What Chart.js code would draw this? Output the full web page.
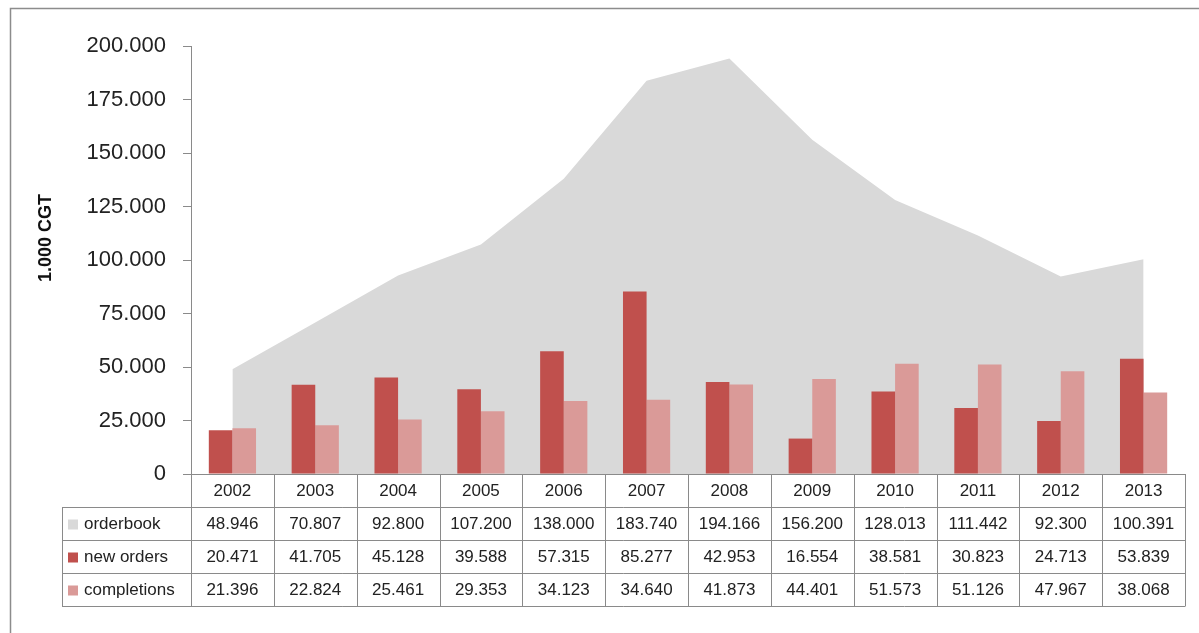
<!DOCTYPE html>
<html>
<head>
<meta charset="utf-8">
<script src="https://cdn.jsdelivr.net/npm/chart.js@4.4.1/dist/chart.umd.min.js"></script>
<style>
  html, body { margin: 0; padding: 0; background: #fff; }
  #wrap { position: relative; width: 1199px; height: 633px; }
</style>
</head>
<body>
<div id="wrap"><canvas id="c" width="1199" height="633"></canvas></div>
<script>
const categories = ['2002','2003','2004','2005','2006','2007','2008','2009','2010','2011','2012','2013'];
const orderbook  = [48946, 70807, 92800, 107200, 138000, 183740, 194166, 156200, 128013, 111442, 92300, 100391];
const newOrders  = [20471, 41705, 45128, 39588, 57315, 85277, 42953, 16554, 38581, 30823, 24713, 53839];
const completions= [21396, 22824, 25461, 29353, 34123, 34640, 41873, 44401, 51573, 51126, 47967, 38068];
const seriesNames = ['orderbook', 'new orders', 'completions'];
const yTicks = [0, 25000, 50000, 75000, 100000, 125000, 150000, 175000, 200000];
const yTitle = '1.000 CGT';

const colors = { orderbook: '#D9D9D9', newOrders: '#C0504D', completions: '#DA9A98' };
const lineCol = '#8A8A8A';
const FONT = '"Liberation Sans", Arial, sans-serif';

function fmt(v) {
  if (v === 0) return '0';
  const s = Math.round(v).toString();
  return s.replace(/\B(?=(\d{3})+(?!\d))/g, '.');
}

const tablePlugin = {
  id: 'dataTable',
  beforeDraw(chart) {
    const ctx = chart.ctx;
    ctx.save();
    ctx.fillStyle = '#fff';
    ctx.fillRect(0, 0, chart.width, chart.height);
    ctx.strokeStyle = '#8C8C8C';
    ctx.lineWidth = 1.5;
    ctx.beginPath();
    ctx.moveTo(10.5, chart.height);
    ctx.lineTo(10.5, 8.5);
    ctx.lineTo(chart.width, 8.5);
    ctx.stroke();
    ctx.restore();
  },
  afterDraw(chart) {
    const ctx = chart.ctx;
    const ca = chart.chartArea;
    const x = chart.scales.x;
    const n = categories.length;
    const colW = (ca.right - ca.left) / n;
    const top = ca.bottom;
    const rowH = 33;
    const labelLeft = 62;
    ctx.save();
    ctx.strokeStyle = lineCol;
    ctx.lineWidth = 1;
    for (let i = 0; i <= n; i++) {
      const px = Math.round(ca.left + i * colW) + 0.5;
      ctx.beginPath();
      ctx.moveTo(px, top);
      ctx.lineTo(px, top + rowH * 4);
      ctx.stroke();
    }
    ctx.beginPath();
    ctx.moveTo(labelLeft + 0.5, top + rowH);
    ctx.lineTo(labelLeft + 0.5, top + rowH * 4);
    ctx.stroke();
    for (let r = 1; r <= 4; r++) {
      const py = Math.round(top + r * rowH) + 0.5;
      ctx.beginPath();
      ctx.moveTo(labelLeft, py);
      ctx.lineTo(Math.round(ca.right) + 0.5, py);
      ctx.stroke();
    }
    ctx.fillStyle = '#222';
    ctx.font = '17px ' + FONT;
    ctx.textAlign = 'center';
    ctx.textBaseline = 'middle';
    categories.forEach((c, i) => {
      ctx.fillText(c, x.getPixelForValue(i), top + rowH / 2 + 1);
    });
    const rows = [orderbook, newOrders, completions];
    const keyCols = [colors.orderbook, colors.newOrders, colors.completions];
    rows.forEach((arr, r) => {
      const cy = top + rowH * (r + 1) + rowH / 2 + 1;
      arr.forEach((v, i) => {
        ctx.fillStyle = '#222';
        ctx.textAlign = 'center';
        ctx.fillText(fmt(v), x.getPixelForValue(i), cy);
      });
      ctx.fillStyle = keyCols[r];
      ctx.fillRect(68, cy - 5, 10, 10);
      ctx.fillStyle = '#222';
      ctx.textAlign = 'left';
      ctx.fillText(seriesNames[r], 84, cy);
    });
    ctx.save();
    ctx.translate(46, 238);
    ctx.rotate(-Math.PI / 2);
    ctx.font = 'bold 18px ' + FONT;
    ctx.fillStyle = '#111';
    ctx.textAlign = 'center';
    ctx.textBaseline = 'middle';
    ctx.fillText(yTitle, 0, 0);
    ctx.restore();
    ctx.restore();
  }
};

new Chart(document.getElementById('c'), {
  data: {
    labels: categories,
    datasets: [
      {
        type: 'line', label: seriesNames[0], data: orderbook,
        backgroundColor: colors.orderbook, borderColor: colors.orderbook,
        borderWidth: 0, pointRadius: 0, fill: 'origin', tension: 0, order: 3
      },
      {
        type: 'bar', label: seriesNames[1], data: newOrders,
        backgroundColor: colors.newOrders, borderWidth: 0,
        categoryPercentage: 0.57, barPercentage: 1.0, order: 1
      },
      {
        type: 'bar', label: seriesNames[2], data: completions,
        backgroundColor: colors.completions, borderWidth: 0,
        categoryPercentage: 0.57, barPercentage: 1.0, order: 1
      }
    ]
  },
  options: {
    responsive: false,
    animation: false,
    devicePixelRatio: 1,
    layout: { padding: { top: 46, bottom: 159, left: 0, right: 14 } },
    plugins: { legend: { display: false }, tooltip: { enabled: false } },
    scales: {
      x: {
        type: 'category', offset: true,
        grid: { display: false },
        ticks: { display: false },
        border: { display: true, color: lineCol, width: 1 },
        afterFit(s) { s.height = 0; }
      },
      y: {
        min: 0, max: 200000,
        afterBuildTicks(s) { s.ticks = yTicks.map(v => ({ value: v })); },
        ticks: {
          callback: (v) => fmt(v),
          font: { family: FONT, size: 22 },
          color: '#222',
          padding: 17
        },
        grid: { drawOnChartArea: false, drawTicks: true, tickLength: 8, color: lineCol },
        border: { display: true, color: lineCol, width: 1 },
        afterFit(s) { s.width = 191; }
      }
    }
  },
  plugins: [tablePlugin]
});
</script>
</body>
</html>
